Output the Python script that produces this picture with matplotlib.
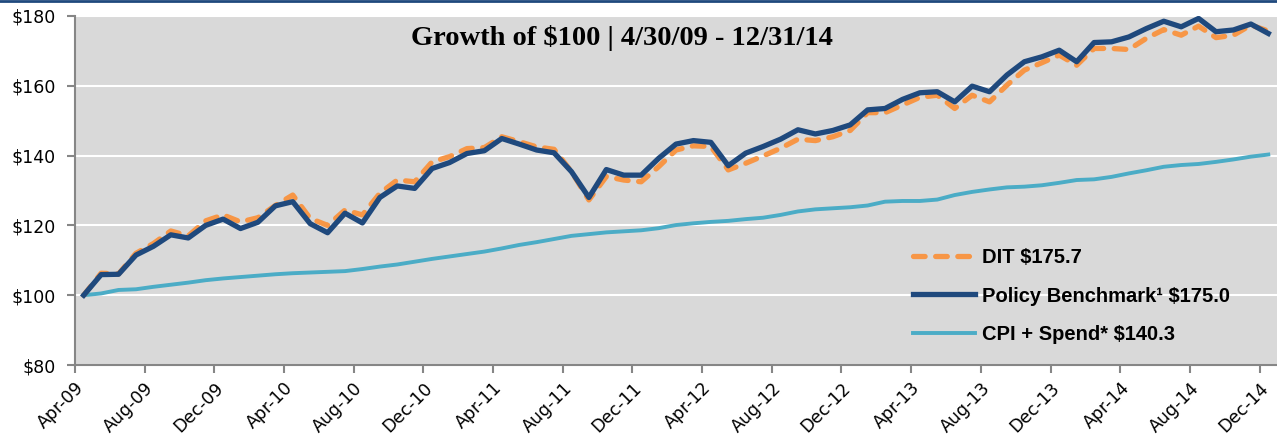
import numpy as np
import matplotlib.pyplot as plt
from matplotlib.lines import Line2D

# monthly values, Apr-09 .. Dec-14 (69 months)
dit = [100, 106.3, 106.1, 112.0, 114.8, 118.4, 117.0, 121.3, 123.0, 121.0, 122.2, 125.7,
       128.7, 122.0, 120.0, 124.4, 123.0, 129.2, 133.0, 132.5, 138.2, 139.7, 142.0, 142.3,
       145.4, 144.0, 142.5, 141.8, 135.4, 127.3, 134.0, 133.0, 132.5, 136.8, 141.6, 142.8,
       142.6, 135.9, 137.8, 139.9, 142.1, 144.7, 144.3, 145.4, 147.2, 152.3, 152.3, 154.5,
       156.7, 157.3, 153.5, 157.3, 155.4, 160.2, 164.5, 166.6, 168.8, 165.9, 170.7, 170.7,
       170.4, 173.6, 176.1, 174.5, 177.1, 173.8, 174.5, 177.4, 175.7]
bench = [100, 105.9, 106.0, 111.5, 114.0, 117.3, 116.4, 120.0, 121.8, 119.1, 120.9, 125.6,
         126.8, 120.5, 117.9, 123.5, 120.7, 128.0, 131.3, 130.6, 136.3, 138.0, 140.6, 141.4,
         144.9, 143.3, 141.6, 140.8, 135.4, 128.0, 136.0, 134.4, 134.4, 139.2, 143.3, 144.3,
         143.8, 137.1, 140.7, 142.6, 144.7, 147.4, 146.2, 147.2, 148.8, 153.1, 153.5, 156.1,
         158.0, 158.3, 155.4, 159.9, 158.3, 163.1, 166.9, 168.3, 170.2, 166.9, 172.4, 172.6,
         174.0, 176.4, 178.5, 176.9, 179.3, 175.5, 176.0, 177.7, 175.0]
cpi = [100, 100.5, 101.5, 101.7, 102.4, 103.0, 103.6, 104.3, 104.8, 105.2, 105.6, 106.0,
       106.3, 106.5, 106.7, 106.9, 107.5, 108.2, 108.8, 109.6, 110.4, 111.1, 111.8, 112.5,
       113.4, 114.4, 115.2, 116.1, 117.0, 117.5, 118.0, 118.3, 118.6, 119.2, 120.1, 120.6,
       121.0, 121.3, 121.8, 122.2, 123.0, 124.0, 124.6, 124.9, 125.2, 125.7, 126.8, 127.0,
       127.0, 127.4, 128.7, 129.6, 130.3, 130.9, 131.1, 131.5, 132.2, 133.0, 133.2, 133.9,
       134.9, 135.8, 136.8, 137.3, 137.6, 138.2, 138.9, 139.7, 140.3]
tick_labels = ['Apr-09', 'Aug-09', 'Dec-09', 'Apr-10', 'Aug-10', 'Dec-10', 'Apr-11',
               'Aug-11', 'Dec-11', 'Apr-12', 'Aug-12', 'Dec-12', 'Apr-13', 'Aug-13',
               'Dec-13', 'Apr-14', 'Aug-14', 'Dec-14']
labels = ['DIT $175.7', 'Policy Benchmark\u00b9 $175.0', 'CPI + Spend* $140.3']

x = np.arange(len(bench)) + 0.5

fig = plt.figure(figsize=(12.77, 4.36), dpi=100)
ax = fig.add_axes([75 / 1277, 1 - 365 / 436, 1 - 75 / 1277, (365 - 16) / 436])
ax.set_facecolor('#D9D9D9')

ax.plot(x, dit, color='#F79646', lw=3.8, dashes=(2.2, 2.0),
        dash_capstyle='round', label=labels[0], zorder=3)
ax.plot(x, bench, color='#1F497D', lw=3.8, solid_joinstyle='round',
        label=labels[1], zorder=4)
ax.plot(x, cpi, color='#4BACC6', lw=2.8, label=labels[2], zorder=2)

ax.set_xlim(0, 69)
ax.set_ylim(80, 180)
ax.set_yticks(range(80, 181, 20))
ax.set_yticklabels(['$%d' % v for v in range(80, 181, 20)])
ax.set_xticks(range(0, 69, 4))
ax.set_xticklabels(tick_labels, rotation=45, ha='right', rotation_mode='anchor')
ax.grid(axis='y', color='white', lw=1.5)
ax.set_axisbelow(True)

for s in ['top', 'right']:
    ax.spines[s].set_visible(False)
for s in ['left', 'bottom']:
    ax.spines[s].set_color('#868686')
    ax.spines[s].set_linewidth(1.5)
ax.tick_params(axis='both', colors='#868686', length=6, width=1.5, direction='out')
ax.tick_params(axis='y', labelsize=12.5, labelcolor='black', pad=8)
ax.tick_params(axis='x', labelsize=12.5, labelcolor='black', pad=4)

fig.text(622 / 1277, 1 - 38 / 436, 'Growth of $100 | 4/30/09 - 12/31/14',
         ha='center', va='center', fontsize=20.5, fontweight='bold',
         family='Liberation Serif')

leg = ax.legend(loc='center left', bbox_to_anchor=(913 / 1277, 1 - 296 / 436),
                bbox_transform=fig.transFigure, frameon=False, borderpad=0,
                borderaxespad=0, handlelength=3.1, handletextpad=0.35,
                labelspacing=0.95, prop={'family': 'Liberation Sans',
                                         'weight': 'bold', 'size': 14.5})

fig.add_artist(Line2D([0, 1], [0.998, 0.998], color='#1F497D', lw=2,
                      transform=fig.transFigure))

fig.savefig('out.png', dpi=100)
